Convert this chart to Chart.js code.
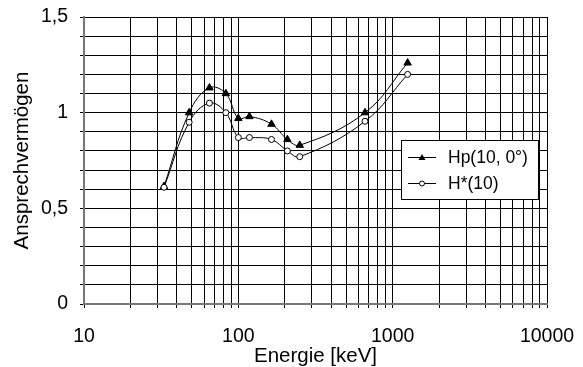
<!DOCTYPE html>
<html>
<head>
<meta charset="utf-8">
<script src="https://cdn.jsdelivr.net/npm/chart.js@4"></script>
<style>
  html, body { margin: 0; padding: 0; background: #fff; }
  #wrap { width: 583px; height: 367px; position: relative; }
</style>
</head>
<body>
<div id="wrap"><canvas id="chart" width="583" height="367"></canvas></div>
<script>
// Energie [keV] der Referenzstrahlungen
const energies = [33, 48, 65, 83, 100, 118, 164, 208, 250, 662, 1250];
// Ansprechvermoegen
const hpValues = [0.615, 1.00, 1.13, 1.10, 0.97, 0.98, 0.94, 0.86, 0.83, 1.00, 1.26];
const hStarValues = [0.61, 0.95, 1.05, 1.00, 0.87, 0.87, 0.86, 0.80, 0.77, 0.955, 1.20];
const seriesLabels = ['Hp(10, 0°)', 'H*(10)'];
const xTicks = [10, 20, 30, 40, 50, 60, 70, 80, 90,
                100, 200, 300, 400, 500, 600, 700, 800, 900,
                1000, 2000, 3000, 4000, 5000, 6000, 7000, 8000, 9000, 10000];

const FONT = "'Liberation Sans', Arial, sans-serif";

const toPoints = vals => vals.map((v, i) => ({ x: energies[i], y: v }));

// Legend box drawn inside the plot area (like the original)
const boxLegend = {
    id: 'boxLegend',
    afterDraw(chart) {
        const ctx = chart.ctx;
        const x = 401, y = 140, w = 137, h = 59;
        ctx.save();
        ctx.fillStyle = '#fff';
        ctx.fillRect(x, y, w, h);
        ctx.strokeStyle = '#000';
        ctx.lineWidth = 1;
        ctx.strokeRect(x + 0.5, y + 0.5, w, h);

        const rows = [y + 17, y + 43];
        rows.forEach((ry, i) => {
            ctx.beginPath();
            ctx.moveTo(408, ry + 0.5);
            ctx.lineTo(436, ry + 0.5);
            ctx.stroke();
            if (i === 0) {
                ctx.fillStyle = '#000';
                ctx.beginPath();
                ctx.moveTo(422, ry - 3);
                ctx.lineTo(425.5, ry + 3);
                ctx.lineTo(418.5, ry + 3);
                ctx.closePath();
                ctx.fill();
            } else {
                ctx.fillStyle = '#fff';
                ctx.beginPath();
                ctx.arc(422, ry + 0.5, 2.5, 0, Math.PI * 2);
                ctx.fill();
                ctx.stroke();
            }
            ctx.fillStyle = '#000';
            ctx.font = '17.5px ' + FONT;
            ctx.textBaseline = 'middle';
            ctx.fillText(seriesLabels[i], 448, ry + 1);
        });
        ctx.restore();
    }
};

const ctx = document.getElementById('chart').getContext('2d');
new Chart(ctx, {
    type: 'line',
    data: {
        datasets: [{
            label: seriesLabels[0],
            data: toPoints(hpValues),
            order: 1,
            borderColor: '#000',
            borderWidth: 1,
            pointStyle: 'triangle',
            pointRadius: 4.3,
            pointBackgroundColor: '#000',
            pointBorderColor: '#000',
            tension: 0.4
        }, {
            label: seriesLabels[1],
            data: toPoints(hStarValues),
            order: 0,
            borderColor: '#000',
            borderWidth: 1,
            pointStyle: 'circle',
            pointRadius: 3,
            pointBackgroundColor: '#fff',
            pointBorderColor: '#000',
            pointBorderWidth: 1,
            tension: 0.4
        }]
    },
    options: {
        responsive: false,
        animation: false,
        events: [],
        layout: { padding: { top: 17, right: 36, left: 0, bottom: 0 } },
        plugins: {
            legend: { display: false },
            tooltip: { enabled: false }
        },
        scales: {
            x: {
                type: 'logarithmic',
                min: 10,
                max: 10000,
                afterBuildTicks: scale => { scale.ticks = xTicks.map(v => ({ value: v })); },
                afterFit: scale => {
                    scale.height = 63;
                    scale.paddingLeft = 0;
                    scale.paddingRight = 0;
                },
                ticks: {
                    autoSkip: false,
                    maxRotation: 0,
                    padding: 17,
                    color: '#000',
                    font: { family: FONT, size: 19.5 },
                    callback: v => Number.isInteger(Math.log10(v)) ? String(v) : ''
                },
                grid: { color: '#000', lineWidth: 1, tickLength: 4 },
                border: { color: '#777', width: 2 },
                title: {
                    display: true,
                    text: 'Energie [keV]',
                    color: '#000',
                    font: { family: FONT, size: 20.5 },
                    padding: { top: 0, bottom: -2 }
                }
            },
            y: {
                min: 0,
                max: 1.5,
                afterFit: scale => {
                    scale.width = 84;
                    scale.paddingTop = 0;
                    scale.paddingBottom = 0;
                },
                ticks: {
                    stepSize: 0.1,
                    autoSkip: false,
                    padding: 12,
                    color: '#000',
                    font: { family: FONT, size: 19.5 },
                    callback: v => {
                        const r = Math.round(v * 10) / 10;
                        return Math.abs(r * 2 - Math.round(r * 2)) < 1e-6 ? String(r).replace('.', ',') : '';
                    }
                },
                grid: { color: '#000', lineWidth: 1, tickLength: 4 },
                border: { color: '#777', width: 2 },
                title: {
                    display: true,
                    text: 'Ansprechvermögen',
                    color: '#000',
                    font: { family: FONT, size: 20.5 },
                    padding: { top: 10, bottom: 0 }
                }
            }
        }
    },
    plugins: [boxLegend]
});
</script>
</body>
</html>
